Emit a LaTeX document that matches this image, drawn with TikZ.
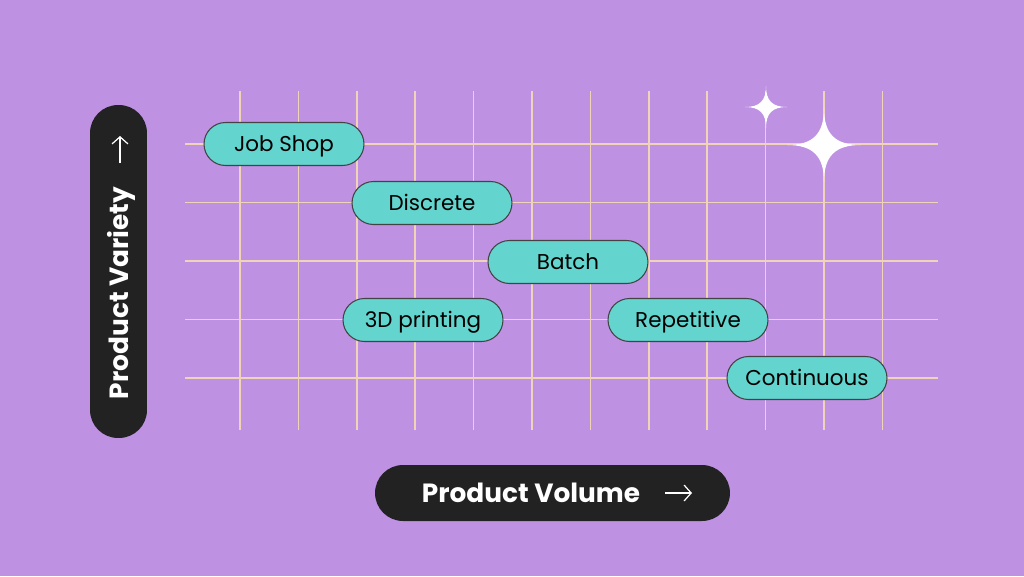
\documentclass[tikz,border=0pt]{standalone}
\usepackage{fontspec}
\setmainfont{Poppins}
\usetikzlibrary{arrows.meta}
\definecolor{bgpurple}{HTML}{BE91E2}
\definecolor{pillcyan}{HTML}{63D4CE}
\definecolor{gridcream}{HTML}{F1D3B8}
\definecolor{axisdark}{HTML}{222222}
\tikzset{
  gridline/.style={draw=gridcream, line width=0.85pt},
  stage/.style={draw=axisdark!85, line width=0.6pt, fill=pillcyan, rounded corners=0.43cm,
    minimum width=3.2cm, minimum height=0.86cm, inner sep=0pt, text height=8.6pt, text depth=0pt,
    font=\fontsize{12.2}{14}\selectfont, text=black},
  axispill/.style={fill=axisdark, rounded corners=0.56cm, inner sep=0pt},
  axistext/.style={text=white, font=\fontsize{15}{18}\selectfont\bfseries, inner sep=0pt,
    text height=10.6pt, text depth=0pt},
  axisarrow/.style={draw=white, line width=0.7pt, -{Straight Barb[length=4pt,width=9pt]}}
}
\begin{document}
\begin{tikzpicture}[x=0.02cm,y=-0.02cm]
\fill[bgpurple] (0,0) rectangle (1024,576); % background
% grid
\foreach \i in {0,...,11} \draw[gridline] ({240+58.4*\i},91) -- ({240+58.4*\i},430);
\foreach \j in {0,...,4} \draw[gridline] (185,{144+58.5*\j}) -- (938,{144+58.5*\j});
% sparkles
\foreach \cx/\cy/\r in {766/107/21, 824/145/37}
  \fill[white] (\cx,{\cy-\r}) .. controls (\cx,{\cy-0.3*\r}) and ({\cx+0.3*\r},\cy) .. ({\cx+\r},\cy)
    .. controls ({\cx+0.3*\r},\cy) and (\cx,{\cy+0.3*\r}) .. (\cx,{\cy+\r})
    .. controls (\cx,{\cy+0.3*\r}) and ({\cx-0.3*\r},\cy) .. ({\cx-\r},\cy)
    .. controls ({\cx-0.3*\r},\cy) and (\cx,{\cy-0.3*\r}) .. cycle;
% production types
\node[stage] (jobshop) at (284,144) {Job Shop};
\node[stage] (discrete) at (432,203) {Discrete};
\node[stage] (batch) at (568,262) {Batch};
\node[stage] (printing) at (423,320) {3D printing};
\node[stage] (repetitive) at (688,320) {Repetitive};
\node[stage] (continuous) at (807,378) {Continuous};
% vertical axis
\node[axispill, minimum width=1.14cm, minimum height=6.66cm] (varietybox) at (118.5,271.5) {};
\node[axistext, rotate=90] (varietylabel) at (119,293) {Product Variety};
\coordinate (varietytail) at (120,163);
\coordinate (varietyhead) at (120,136);
\draw[axisarrow] (varietytail) -- (varietyhead);
% horizontal axis
\node[axispill, minimum width=7.1cm, minimum height=1.12cm] (volumebox) at (552.5,493) {};
\node[axistext] (volumelabel) at (531,493) {Product Volume};
\coordinate (volumetail) at (665,493);
\coordinate (volumehead) at (692,493);
\draw[axisarrow] (volumetail) -- (volumehead);
\end{tikzpicture}
\end{document}
